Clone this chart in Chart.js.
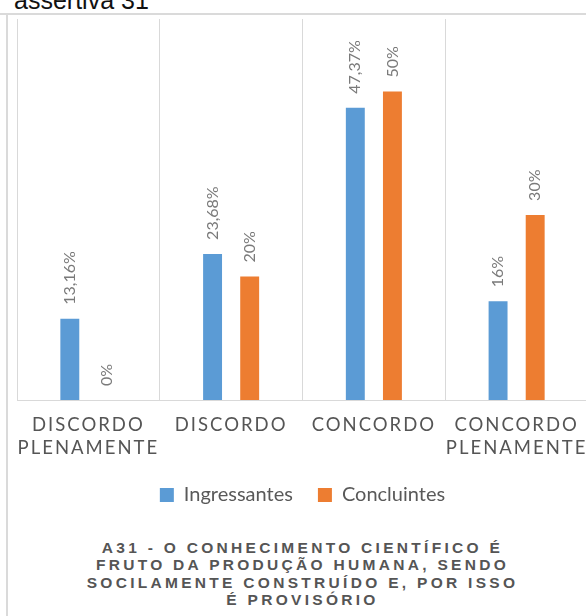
<!DOCTYPE html>
<html>
<head>
<meta charset="utf-8">
<script src="https://cdn.jsdelivr.net/npm/chart.js@4/dist/chart.umd.min.js"></script>
<style>
  body { margin: 0; width: 586px; height: 616px; overflow: hidden; background: #fff; position: relative; }
  #top { position: absolute; left: 14px; top: -12px; font: 25px/25px "Liberation Sans", Arial, sans-serif; color: #111; }
  #hline { position: absolute; left: 0; top: 13px; width: 586px; height: 2px; background: #dadada; }
  #vline { position: absolute; left: 6px; top: 13px; width: 2px; height: 603px; background: #dadada; }
  #chart { position: absolute; left: 7px; top: 14px; }
  #caption { position: absolute; left: 17px; width: 571px; top: 539px; text-align: center;
    font: bold 15.5px/17.4px "Liberation Sans", Arial, sans-serif; letter-spacing: 3.3px; color: #555; }
</style>
</head>
<body>
<div id="top">assertiva 31</div>
<div id="hline"></div>
<div id="vline"></div>
<canvas id="chart" width="595" height="501"></canvas>
<div id="caption">A31 - O CONHECIMENTO CIENTÍFICO É<br>FRUTO DA PRODUÇÃO HUMANA, SENDO<br>SOCILAMENTE CONSTRUÍDO E, POR ISSO<br>É PROVISÓRIO</div>
<script>
var categories = [['DISCORDO', 'PLENAMENTE'], 'DISCORDO', 'CONCORDO', ['CONCORDO', 'PLENAMENTE']];
var ingressantes = [13.16, 23.68, 47.37, 16];
var concluintes = [0, 20, 50, 30];

function pct(v) {
    return String(v).replace('.', ',') + '%';
}

// value labels above the bars, then letter spacing for the axis labels (drawn on top layer)
var barLabels = {
    id: 'barLabels',
    afterDatasetsDraw: function(chart) {
        var ctx = chart.ctx;
        chart.data.datasets.forEach(function(ds, i) {
            chart.getDatasetMeta(i).data.forEach(function(bar, j) {
                ctx.save();
                ctx.translate(bar.x, bar.y - 14);
                ctx.rotate(-Math.PI / 2);
                ctx.font = '16px Lato, sans-serif';
                ctx.fillStyle = '#7a7a7a';
                ctx.textAlign = 'left';
                ctx.textBaseline = 'middle';
                ctx.fillText(pct(ds.data[j]), 0, 0);
                ctx.restore();
            });
        });
        ctx.letterSpacing = '2px';
    },
    afterDraw: function(chart) {
        chart.ctx.letterSpacing = '0px';
    }
};

var ctx = document.getElementById('chart').getContext('2d');
var chart = new Chart(ctx, {
    type: 'bar',
    data: {
        labels: categories,
        datasets: [
            {
                label: 'Ingressantes',
                data: ingressantes,
                backgroundColor: '#5B9BD5',
                borderWidth: 0,
                categoryPercentage: 0.52,
                barPercentage: 0.51
            },
            {
                label: 'Concluintes',
                data: concluintes,
                backgroundColor: '#ED7D31',
                borderWidth: 0,
                categoryPercentage: 0.52,
                barPercentage: 0.51
            }
        ]
    },
    options: {
        responsive: false,
        animation: false,
        layout: { padding: { left: 10, right: 14, top: 5, bottom: 0 } },
        scales: {
            x: {
                grid: { color: '#d9d9d9', drawTicks: true, tickLength: 13, tickColor: 'transparent' },
                border: { color: '#d9d9d9' },
                ticks: {
                    z: 1,
                    padding: 0,
                    maxRotation: 0,
                    autoSkip: false,
                    color: '#555',
                    font: { family: 'Lato, sans-serif', size: 18.5, lineHeight: 1.27 }
                }
            },
            y: {
                display: false,
                min: 0,
                max: 61.75
            }
        },
        plugins: {
            legend: {
                position: 'bottom',
                labels: {
                    boxWidth: 14,
                    boxHeight: 14,
                    padding: 25,
                    color: '#595959',
                    font: { family: 'Lato, sans-serif', size: 20 }
                }
            },
            tooltip: { enabled: false }
        }
    },
    plugins: [barLabels]
});
</script>
</body>
</html>
